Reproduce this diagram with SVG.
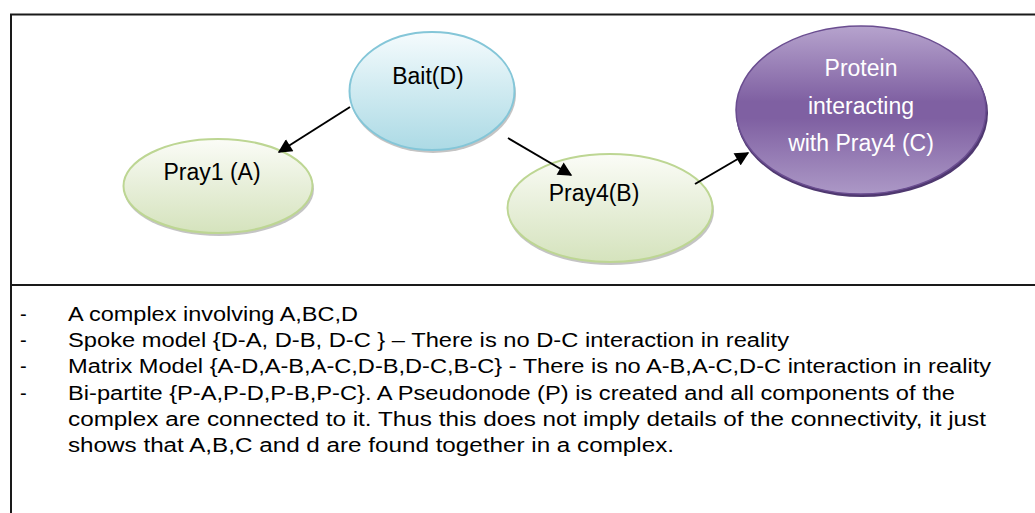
<svg xmlns="http://www.w3.org/2000/svg" width="1035" height="513" viewBox="0 0 1035 513">
<style>
.frame{fill:none;stroke:#1a1a1a;stroke-width:2}
.lbl{font-family:"Liberation Sans","Open Sans",sans-serif;font-size:23px;fill:#000}
.wl{font-family:"Liberation Sans","Open Sans",sans-serif;font-size:23px;fill:#fff}
.body{font-family:"Liberation Sans","Open Sans",sans-serif;font-size:20px;fill:#000}
.conn{stroke:#000;stroke-width:2;fill:none;marker-end:url(#ah)}
.shadow{fill:#8a8a8a;opacity:0.5}
</style>
<defs>
<linearGradient id="gBlue" x1="0" y1="0" x2="0" y2="1">
<stop offset="0" stop-color="#f5fbfd"/>
<stop offset="0.45" stop-color="#d3ecf2"/>
<stop offset="1" stop-color="#acdae5"/>
</linearGradient>
<linearGradient id="gGreen" x1="0" y1="0" x2="0" y2="1">
<stop offset="0" stop-color="#fbfcf7"/>
<stop offset="0.45" stop-color="#e9f0dc"/>
<stop offset="1" stop-color="#d5e3bd"/>
</linearGradient>
<linearGradient id="gPurple" x1="0" y1="0" x2="0" y2="1">
<stop offset="0" stop-color="#b6a3cd"/>
<stop offset="0.45" stop-color="#7f60a2"/>
<stop offset="0.55" stop-color="#7f60a2"/>
<stop offset="1" stop-color="#ac98c6"/>
</linearGradient>
<marker id="ah" viewBox="0 0 10 10" refX="9" refY="5" markerWidth="7.5" markerHeight="7" orient="auto" markerUnits="strokeWidth">
<path d="M0,0 L10,5 L0,10 z" fill="#000"/>
</marker>
</defs>

<g id="frame">
<line class="frame" x1="10" y1="14.5" x2="1035" y2="14.5"/>
<line class="frame" x1="11" y1="14" x2="11" y2="513"/>
<line class="frame" x1="10" y1="285" x2="1035" y2="285"/>
</g>

<g id="node-bait">
<ellipse class="shadow" cx="433" cy="94" rx="83" ry="59"/>
<ellipse cx="432" cy="91" rx="82.5" ry="59" fill="url(#gBlue)" stroke="#84c6d8" stroke-width="2"/>
<text class="lbl" x="428" y="84" text-anchor="middle">Bait(D)</text>
</g>

<g id="node-pray1">
<ellipse class="shadow" cx="219" cy="189" rx="95" ry="47"/>
<ellipse cx="218" cy="186" rx="94.5" ry="47" fill="url(#gGreen)" stroke="#bdd693" stroke-width="2"/>
<text class="lbl" x="212" y="180" text-anchor="middle">Pray1 (A)</text>
</g>

<g id="node-pray4">
<ellipse class="shadow" cx="611" cy="211" rx="103" ry="54"/>
<ellipse cx="610" cy="208" rx="102.5" ry="54" fill="url(#gGreen)" stroke="#bdd693" stroke-width="2"/>
<text class="lbl" x="594" y="201" text-anchor="middle">Pray4(B)</text>
</g>

<g id="node-protein">
<ellipse cx="862" cy="113" rx="126" ry="84" fill="#4f3870"/>
<ellipse cx="861" cy="110" rx="125" ry="84" fill="url(#gPurple)" stroke="#6a4d90" stroke-width="1.5"/>
<text class="wl" x="861" y="76" text-anchor="middle">Protein</text>
<text class="wl" x="861" y="114" text-anchor="middle">interacting</text>
<text class="wl" x="861" y="151" text-anchor="middle">with Pray4 (C)</text>
</g>

<g id="connectors">
<line class="conn" x1="350" y1="107" x2="279" y2="152"/>
<line class="conn" x1="508" y1="138" x2="571" y2="175"/>
<line class="conn" x1="695" y1="184" x2="748" y2="153"/>
</g>

<g id="notes">
<text class="body" x="20" y="321">-</text>
<text class="body" x="68" y="321" textLength="290" lengthAdjust="spacingAndGlyphs">A complex involving A,BC,D</text>
<text class="body" x="20" y="347">-</text>
<text class="body" x="68" y="347" textLength="721" lengthAdjust="spacingAndGlyphs">Spoke model {D-A, D-B, D-C } – There is no D-C interaction in reality</text>
<text class="body" x="20" y="373">-</text>
<text class="body" x="68" y="373" textLength="923" lengthAdjust="spacingAndGlyphs">Matrix Model {A-D,A-B,A-C,D-B,D-C,B-C}  - There is no A-B,A-C,D-C interaction in reality</text>
<text class="body" x="20" y="400">-</text>
<text class="body" x="68" y="400" textLength="887" lengthAdjust="spacingAndGlyphs">Bi-partite {P-A,P-D,P-B,P-C}. A Pseudonode (P) is created and all components of the</text>
<text class="body" x="68" y="426" textLength="918" lengthAdjust="spacingAndGlyphs">complex are connected to it. Thus this does not imply details of the connectivity, it just</text>
<text class="body" x="68" y="452" textLength="606" lengthAdjust="spacingAndGlyphs">shows that A,B,C and d are found together in a complex.</text>
</g>
</svg>
